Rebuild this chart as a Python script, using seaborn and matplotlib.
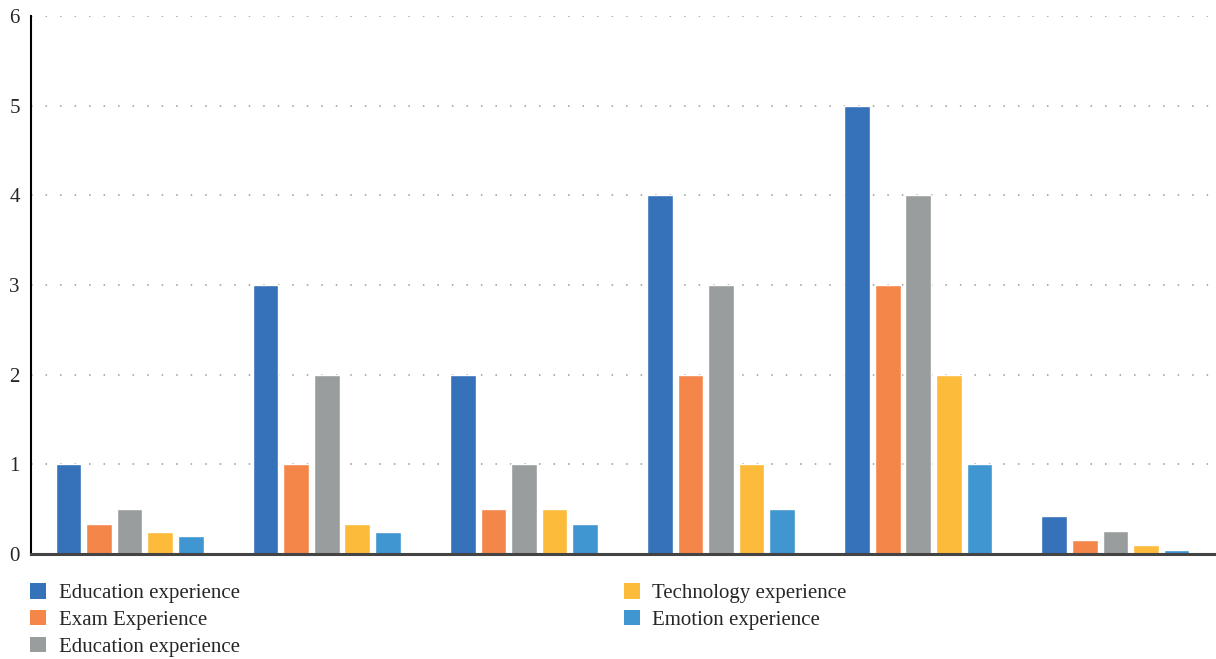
import matplotlib
matplotlib.use("Agg")
import matplotlib.pyplot as plt
import seaborn as sns
import pandas as pd
from matplotlib.patches import Patch

groups = ["G1", "G2", "G3", "G4", "G5", "G6"]
series_labels = ["Education experience", "Exam Experience", "Education experience",
                 "Technology experience", "Emotion experience"]
series_keys = ["s1", "s2", "s3", "s4", "s5"]
edu1 = [1.0, 3.0, 2.0, 4.0, 5.0, 0.42]
exam = [0.33, 1.0, 0.5, 2.0, 3.0, 0.16]
edu2 = [0.5, 2.0, 1.0, 3.0, 4.0, 0.26]
tech = [0.25, 0.33, 0.5, 1.0, 2.0, 0.10]
emo = [0.2, 0.25, 0.33, 0.5, 1.0, 0.045]
colors = ["#3572BA", "#F4864A", "#9A9D9D", "#FDBB3B", "#3F96D0"]
yticks = [0, 1, 2, 3, 4, 5, 6]

sns.set_style("white")
plt.rcParams["font.family"] = ["Liberation Serif", "DejaVu Serif"]

rows = []
for key, vals in zip(series_keys, [edu1, exam, edu2, tech, emo]):
    for g, v in zip(groups, vals):
        rows.append({"group": g, "series": key, "value": v})
df = pd.DataFrame(rows)

fig = plt.figure(figsize=(12.16, 6.59), dpi=100)
ax = fig.add_axes([31 / 1216, 1 - 554 / 659, 1 - 31 / 1216 - 2 / 1216, (554 - 16) / 659])

sns.barplot(data=df, x="group", y="value", hue="series", hue_order=series_keys,
            palette=colors, width=0.775, gap=0.16, ax=ax, legend=False,
            saturation=1, errorbar=None)

ax.set_ylim(0, 6)
ax.set_xlim(-0.5, 5.5)
ax.set_yticks(yticks)
ax.set_yticklabels([str(t) for t in yticks], fontsize=15)
ax.set_xticks([])
ax.set_xlabel("")
ax.set_ylabel("")
ax.tick_params(axis="y", length=0, pad=8)
for y in yticks[1:]:
    ax.axhline(y, color="#999999", linestyle=(0, (1, 8.5)), linewidth=1.1, zorder=0)
ax.spines["top"].set_visible(False)
ax.spines["right"].set_visible(False)
ax.spines["left"].set_color("black")
ax.spines["left"].set_linewidth(1.5)
ax.spines["bottom"].set_color("#444444")
ax.spines["bottom"].set_linewidth(2.2)
ax.spines["bottom"].set_zorder(5)

handles = [Patch(facecolor=c, edgecolor="none") for c in colors]
fig.legend(handles, series_labels, ncol=2, loc="upper left",
           bbox_to_anchor=(30 / 1216, 1 - 583 / 659), frameon=False,
           fontsize=15, handlelength=0.77, handleheight=0.77, handletextpad=0.6,
           labelspacing=0.33, columnspacing=18.45, borderaxespad=0, borderpad=0)

fig.savefig("out.png", dpi=100)
